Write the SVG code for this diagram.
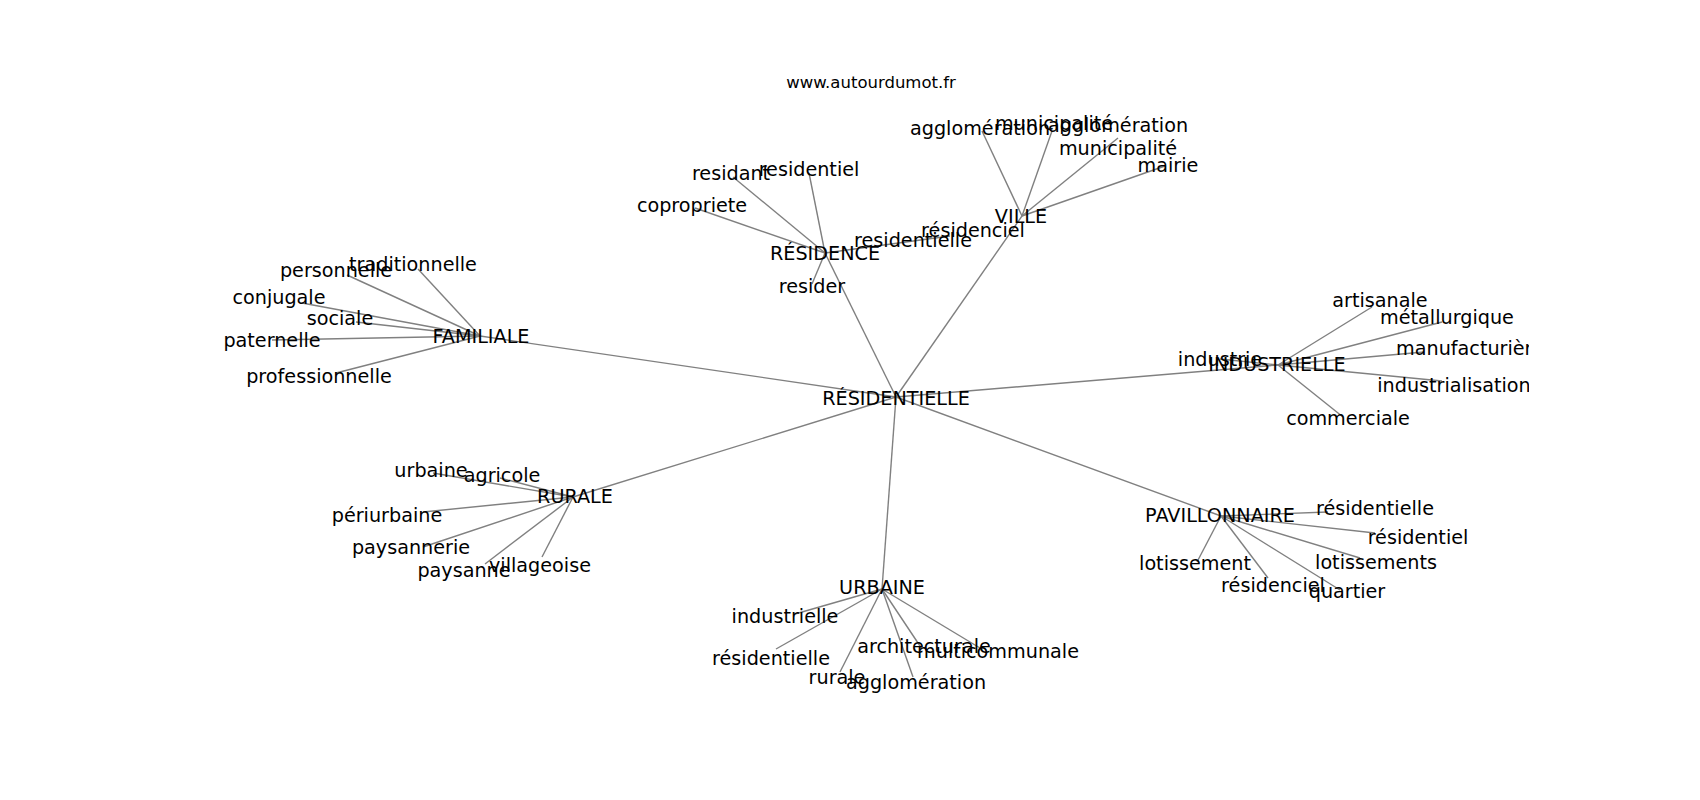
<svg xmlns="http://www.w3.org/2000/svg" width="1700" height="800" viewBox="0 0 1700 800">
<defs>
<style>
.e{stroke:#808080;stroke-width:1.4;fill:none}
.t{font-family:"DejaVu Sans",sans-serif;font-size:19.2px;fill:#000;text-anchor:middle}
.title{font-family:"DejaVu Sans",sans-serif;font-size:16.5px;fill:#000;text-anchor:middle}
</style>
<clipPath id="ax"><rect x="0" y="0" width="1529" height="800"/></clipPath>
</defs>
<rect width="1700" height="800" fill="#fff"/>
<text class="title" x="871" y="88">www.autourdumot.fr</text>
<g id="edges" clip-path="url(#ax)">
<line class="e" x1="896" y1="397" x2="480" y2="336"/>
<line class="e" x1="896" y1="397" x2="825" y2="253"/>
<line class="e" x1="896" y1="397" x2="1022" y2="216"/>
<line class="e" x1="896" y1="397" x2="1278" y2="365"/>
<line class="e" x1="896" y1="397" x2="1221" y2="516"/>
<line class="e" x1="896" y1="397" x2="882" y2="589"/>
<line class="e" x1="896" y1="397" x2="573" y2="497"/>
<line class="e" x1="480" y1="336" x2="418" y2="269"/>
<line class="e" x1="480" y1="336" x2="347" y2="275"/>
<line class="e" x1="480" y1="336" x2="302" y2="303"/>
<line class="e" x1="480" y1="336" x2="356" y2="322"/>
<line class="e" x1="480" y1="336" x2="272" y2="340"/>
<line class="e" x1="480" y1="336" x2="336" y2="373"/>
<line class="e" x1="825" y1="253" x2="733" y2="177"/>
<line class="e" x1="825" y1="253" x2="809" y2="173"/>
<line class="e" x1="825" y1="253" x2="695" y2="208"/>
<line class="e" x1="825" y1="253" x2="812" y2="284"/>
<line class="e" x1="825" y1="253" x2="950" y2="236"/>
<line class="e" x1="1022" y1="216" x2="982" y2="131"/>
<line class="e" x1="1022" y1="216" x2="1052" y2="131"/>
<line class="e" x1="1022" y1="216" x2="1118" y2="138"/>
<line class="e" x1="1022" y1="216" x2="1165" y2="166"/>
<line class="e" x1="1278" y1="365" x2="1220" y2="359"/>
<line class="e" x1="1278" y1="365" x2="1372" y2="307"/>
<line class="e" x1="1278" y1="365" x2="1442" y2="322"/>
<line class="e" x1="1278" y1="365" x2="1424" y2="352"/>
<line class="e" x1="1278" y1="365" x2="1442" y2="381"/>
<line class="e" x1="1278" y1="365" x2="1343" y2="417"/>
<line class="e" x1="1221" y1="516" x2="1328" y2="512"/>
<line class="e" x1="1221" y1="516" x2="1375" y2="533"/>
<line class="e" x1="1221" y1="516" x2="1360" y2="558"/>
<line class="e" x1="1221" y1="516" x2="1340" y2="590"/>
<line class="e" x1="1221" y1="516" x2="1197" y2="562"/>
<line class="e" x1="1221" y1="516" x2="1268" y2="578"/>
<line class="e" x1="882" y1="589" x2="795" y2="614"/>
<line class="e" x1="882" y1="589" x2="776" y2="649"/>
<line class="e" x1="882" y1="589" x2="840" y2="672"/>
<line class="e" x1="882" y1="589" x2="913" y2="677"/>
<line class="e" x1="882" y1="589" x2="922" y2="649"/>
<line class="e" x1="882" y1="589" x2="980" y2="648"/>
<line class="e" x1="573" y1="497" x2="433" y2="473"/>
<line class="e" x1="573" y1="497" x2="500" y2="478"/>
<line class="e" x1="573" y1="497" x2="423" y2="512"/>
<line class="e" x1="573" y1="497" x2="423" y2="547"/>
<line class="e" x1="573" y1="497" x2="485" y2="564"/>
<line class="e" x1="573" y1="497" x2="542" y2="557"/>
</g>
<g id="nodes" clip-path="url(#ax)">
<g id="n-residentielle-hub"><text class="t" x="896" y="405">RÉSIDENTIELLE</text></g>
<g id="n-familiale"><text class="t" x="481" y="343">FAMILIALE</text></g>
<g id="n-residence"><text class="t" x="825" y="260">RÉSIDENCE</text></g>
<g id="n-ville"><text class="t" x="1021" y="223">VILLE</text></g>
<g id="n-industrielle"><text class="t" x="1277" y="371">INDUSTRIELLE</text></g>
<g id="n-pavillonnaire"><text class="t" x="1220" y="522">PAVILLONNAIRE</text></g>
<g id="n-urbaine"><text class="t" x="882" y="594">URBAINE</text></g>
<g id="n-rurale"><text class="t" x="575" y="503">RURALE</text></g>

<g id="n-residant"><text class="t" x="731" y="180">residant</text></g>
<g id="n-residentiel"><text class="t" x="809" y="176">residentiel</text></g>
<g id="n-copropriete"><text class="t" x="692" y="212">copropriete</text></g>
<g id="n-resider"><text class="t" x="812" y="293">resider</text></g>
<g id="n-residentielle-r"><text class="t" x="913" y="247">residentielle</text></g>

<g id="n-residenciel-v"><text class="t" x="973" y="237">résidenciel</text></g>
<g id="n-agglo-v1"><text class="t" x="980" y="135">agglomération</text></g>
<g id="n-munic-v1"><text class="t" x="1054" y="130">municipalité</text></g>
<g id="n-agglo-v2"><text class="t" x="1118" y="132">agglomération</text></g>
<g id="n-munic-v2"><text class="t" x="1118" y="155">municipalité</text></g>
<g id="n-mairie"><text class="t" x="1168" y="172">mairie</text></g>

<g id="n-industrie"><text class="t" x="1220" y="366">industrie</text></g>
<g id="n-artisanale"><text class="t" x="1380" y="307">artisanale</text></g>
<g id="n-metallurgique"><text class="t" x="1447" y="324">métallurgique</text></g>
<g id="n-manufacturiere"><text class="t" x="1470" y="355">manufacturière</text></g>
<g id="n-industrialisation"><text class="t" x="1454" y="392">industrialisation</text></g>
<g id="n-commerciale"><text class="t" x="1348" y="425">commerciale</text></g>

<g id="n-residentielle-p"><text class="t" x="1375" y="515">résidentielle</text></g>
<g id="n-residentiel-p"><text class="t" x="1418" y="544">résidentiel</text></g>
<g id="n-lotissements"><text class="t" x="1376" y="569">lotissements</text></g>
<g id="n-quartier"><text class="t" x="1347" y="598">quartier</text></g>
<g id="n-lotissement"><text class="t" x="1195" y="570">lotissement</text></g>
<g id="n-residenciel-p"><text class="t" x="1273" y="592">résidenciel</text></g>

<g id="n-industrielle-u"><text class="t" x="785" y="623">industrielle</text></g>
<g id="n-residentielle-u"><text class="t" x="771" y="665">résidentielle</text></g>
<g id="n-rurale-u"><text class="t" x="837" y="684">rurale</text></g>
<g id="n-agglo-u"><text class="t" x="916" y="689">agglomération</text></g>
<g id="n-architecturale"><text class="t" x="924" y="653">architecturale</text></g>
<g id="n-multicommunale"><text class="t" x="998" y="658">multicommunale</text></g>

<g id="n-urbaine-r"><text class="t" x="431" y="477">urbaine</text></g>
<g id="n-agricole"><text class="t" x="502" y="482">agricole</text></g>
<g id="n-periurbaine"><text class="t" x="387" y="522">périurbaine</text></g>
<g id="n-paysannerie"><text class="t" x="411" y="554">paysannerie</text></g>
<g id="n-paysanne"><text class="t" x="464" y="577">paysanne</text></g>
<g id="n-villageoise"><text class="t" x="540" y="572">villageoise</text></g>

<g id="n-traditionnelle"><text class="t" x="413" y="271">traditionnelle</text></g>
<g id="n-personnelle"><text class="t" x="336" y="277">personnelle</text></g>
<g id="n-conjugale"><text class="t" x="279" y="304">conjugale</text></g>
<g id="n-sociale"><text class="t" x="340" y="325">sociale</text></g>
<g id="n-paternelle"><text class="t" x="272" y="347">paternelle</text></g>
<g id="n-professionnelle"><text class="t" x="319" y="383">professionnelle</text></g>
</g>
</svg>
